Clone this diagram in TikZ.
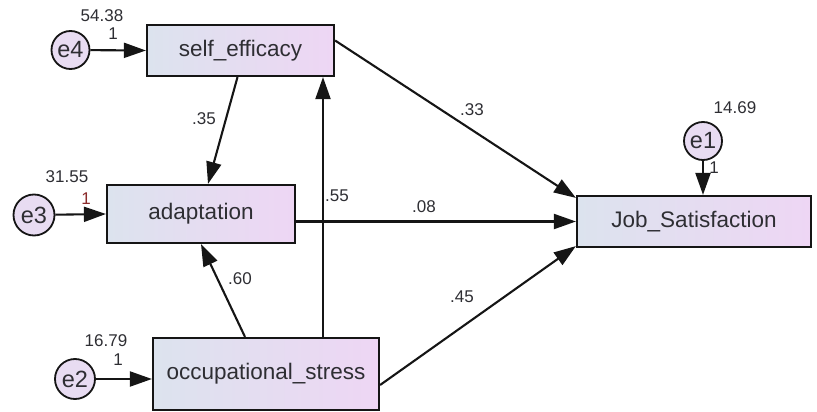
\documentclass[tikz,border=0pt]{standalone}
\usepackage{fontspec}
\setmainfont{Liberation Sans}
\usetikzlibrary{arrows.meta}
\definecolor{boxleft}{HTML}{DCE3EE}
\definecolor{boxright}{HTML}{EED6F4}
\definecolor{errfill}{HTML}{E8DCF2}
\definecolor{ink}{HTML}{151515}
\definecolor{txt}{HTML}{2E2E33}
\definecolor{onered}{HTML}{8B2A2A}
\tikzset{
  box/.style={draw=ink,line width=2.2pt,left color=boxleft,right color=boxright,
    inner sep=0pt,text=txt,font=\fontsize{22.5}{22.5}\selectfont},
  err/.style={circle,draw=ink,line width=1.8pt,fill=errfill,inner sep=0pt,
    minimum size=38pt,text=txt,font=\fontsize{23.5}{23.5}\selectfont},
  arr/.style={draw=ink,line width=2.1pt,-{Triangle[length=22pt,width=15pt]}},
  lbl/.style={text=txt,inner sep=0pt,font=\fontsize{17}{17}\selectfont}
}
\begin{document}
\begin{tikzpicture}[x=1pt,y=-1pt]
\useasboundingbox (0,0) rectangle (817,412);
% observed variables
\node[box,minimum width=187pt,minimum height=51pt] (seff) at (240.5,50.5) {self\_efficacy};
\node[box,minimum width=188pt,minimum height=58pt] (adapt) at (201,214) {adaptation};
\node[box,minimum width=226pt,minimum height=72pt] (ostress) at (266,374) {occupational\_stress};
\node[box,minimum width=234pt,minimum height=51pt] (jobsat) at (694,221.5) {Job\_Satisfaction};
% error terms
\node[err] (e4) at (70.5,50) {e4};
\node[err,minimum size=41pt] (e3) at (34,215) {e3};
\node[err,minimum size=40pt] (e2) at (75,379) {e2};
\node[err] (e1) at (703,141) {e1};
% error paths
\draw[arr] (e4) -- (seff.west);
\draw[arr] (e3) -- (adapt.west);
\draw[arr] (e2) -- (e2 -| ostress.west);
\draw[arr] (e1) -- (e1 |- jobsat.north);
% structural paths
\draw[arr] ([xshift=-3pt]seff.south) -- ([xshift=7pt]adapt.north);
\draw[arr] ([xshift=-21pt]ostress.north) -- (adapt.south);
\draw[arr] ([xshift=57pt]ostress.north) -- ([xshift=57pt]ostress.north |- seff.south);
\draw[arr] ([yshift=10pt]seff.east) -- ([yshift=-3pt]jobsat.north west);
\draw[arr] (adapt.east |- jobsat.west) -- (jobsat.west);
\draw[arr] ([yshift=-11pt]ostress.east) -- ([yshift=2pt]jobsat.south west);
% estimates
\node[lbl] (v4) at (102,16) {54.38};
\node[lbl] (w4) at (113,34) {1};
\node[lbl] (v3) at (67,177) {31.55};
\node[lbl,text=onered] (w3) at (86,199) {1};
\node[lbl] (v2) at (106,341) {16.79};
\node[lbl] (w2) at (118,360) {1};
\node[lbl] (v1) at (735,108) {14.69};
\node[lbl] (w1) at (714,168) {1};
\node[lbl] (b35) at (204,119) {.35};
\node[lbl] (b60) at (240,279) {.60};
\node[lbl] (b55) at (337,196) {.55};
\node[lbl] (b08) at (424,207) {.08};
\node[lbl] (b33) at (472,110) {.33};
\node[lbl] (b45) at (462,297) {.45};
\end{tikzpicture}
\end{document}
